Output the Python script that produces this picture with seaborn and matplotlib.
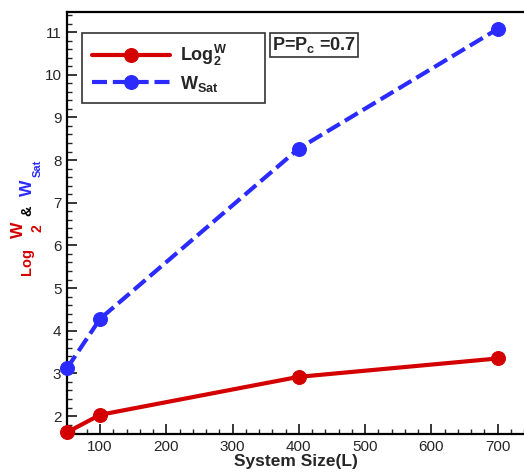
import matplotlib
matplotlib.use("Agg")
import matplotlib.pyplot as plt
import seaborn as sns
import pandas as pd
from matplotlib.ticker import MultipleLocator

# values
sizes = [50, 100, 400, 700]
log_w2 = [1.62, 2.03, 2.92, 3.35]
w_sat = [3.12, 4.28, 8.27, 11.07]

red = '#d40000'
blue = '#2b2bff'

sns.set_style('ticks')
plt.rcParams['font.family'] = ['Liberation Sans', 'DejaVu Sans']
plt.rcParams['mathtext.fontset'] = 'custom'
plt.rcParams['mathtext.rm'] = 'Liberation Sans'
plt.rcParams['mathtext.bf'] = 'Liberation Sans:bold'

df = pd.DataFrame({'L': sizes, 'log': log_w2, 'sat': w_sat})

W, H = 524, 474
fig = plt.figure(figsize=(W / 100, H / 100), dpi=100)
ax = fig.add_axes([67 / W, 40 / H, (W - 67) / W, 422 / H])

sns.lineplot(data=df, x='L', y='log', ax=ax, color=red, lw=3, marker='o',
             markersize=10, mec=red, mfc=red, clip_on=False,
             label=r'$\mathbf{Log}^{\mathbf{W}}_{\mathbf{2}}$', zorder=3)
sns.lineplot(data=df, x='L', y='sat', ax=ax, color=blue, lw=3, marker='o',
             markersize=10, mec=blue, mfc=blue, clip_on=False,
             linestyle=(0, (3.6, 1.4)),
             label=r'$\mathbf{W}_{\mathbf{Sat}}$', zorder=3)

ax.set_xlim(50, 740)
ax.set_ylim(1.58, 11.47)
ax.xaxis.set_major_locator(MultipleLocator(100))
ax.xaxis.set_minor_locator(MultipleLocator(20))
ax.yaxis.set_major_locator(MultipleLocator(1))
ax.yaxis.set_minor_locator(MultipleLocator(0.2))
ax.tick_params(which='major', direction='in', length=7, width=1.3, labelsize=11, pad=4)
ax.tick_params(which='minor', direction='in', length=3.5, width=1)
ax.set_xticks([100, 200, 300, 400, 500, 600, 700])

for s in ['left', 'bottom', 'top']:
    ax.spines[s].set_linewidth(1.6)
    ax.spines[s].set_color('black')
ax.spines['right'].set_visible(False)

ax.set_xlabel('System Size(L)', fontsize=12.5, fontweight='bold', labelpad=0)
ax.set_ylabel('')

# legend box spans 82..265 px wide, 33..103 px tall in the reference
lx0 = (82 - 67) / 457
lw_ = (265 - 82) / 457
leg = ax.legend(loc='upper left', bbox_to_anchor=(lx0, 0.95, lw_, 0.0), mode='expand',
                borderaxespad=0, fontsize=13, handlelength=4.3, handletextpad=0.55,
                frameon=True, fancybox=False, edgecolor='#333333', framealpha=1,
                borderpad=0.55, labelspacing=0.3)
leg.get_frame().set_linewidth(1.2)

ax.text(0.448, 0.945, r'P=P$_{\mathbf{c}}$ =0.7', transform=ax.transAxes,
        fontsize=13, fontweight='bold', ha='left', va='top',
        bbox=dict(boxstyle='square,pad=0.12', fc='white', ec='#333333', lw=1.2))

# multi-coloured y label, built from pieces
def ylab(txt, cx, bottom, color, size):
    fig.text(cx / W, 1 - bottom / H, txt, rotation=90, ha='center', va='bottom',
             color=color, fontsize=size, fontweight='bold')

ylab('Log', 27, 275, red, 10.5)
ylab('W', 18, 238, red, 12.5)
ylab('2', 37, 232, red, 10)
ylab('&', 27, 216, 'black', 10.5)
ylab('W', 27, 196, blue, 12.5)
ylab('Sat', 38, 177, blue, 8)

fig.savefig('out.png', dpi=100)
